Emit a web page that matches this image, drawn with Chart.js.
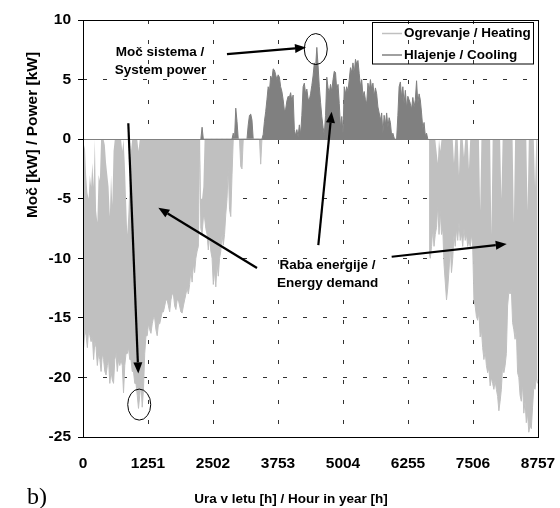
<!DOCTYPE html>
<html>
<head>
<meta charset="utf-8">
<script src="https://cdn.jsdelivr.net/npm/chart.js@4.4.1/dist/chart.umd.min.js"></script>
<style>
  body { margin: 0; background: #fff; }
  canvas { display: block; }
</style>
</head>
<body>
<canvas id="graf" width="560" height="508"></canvas>
<script>
// hourly loads summarised per day: one value per day, placed at hour day*24 + 12
var xTicks = [0, 1251, 2502, 3753, 5004, 6255, 7506, 8757];
var yMin = -25, yMax = 10, yStep = 5;

// heating, January - May (kW, negative = heat delivered)
var heatStartA = 0;
var heatLowA = [
  -17.5, -16, -16.5, -17.5, -16, -16.5, -17, -16.5, -18.5, -17,
  -17.5, -19, -18, -18.5, -19.5, -18, -18.5, -19.5, -19.8, -19,
  -18.5, -20.5, -19.5, -20.2, -20.5, -18.5, -18, -19.5, -18.5, -19,
  -18.5, -19, -21.3, -19, -18, -18, -17.5, -18.5, -18.5, -19.5,
  -19.5, -20.5, -20.5, -21.5, -22.6, -21.5, -20.5, -22.5, -21, -18,
  -16.5, -16.5, -15.5, -16, -16.3, -15.5, -15, -15, -16, -16.5,
  -15.5, -15.5, -15, -14.5, -14.5, -14, -13.5, -13.5, -14, -14.5,
  -13.5, -13, -13, -14, -14.3, -13.5, -13.5, -14, -14.5, -14.6,
  -14, -13.5, -13, -12.5, -13, -12.2, -11, -12, -10.5, -11.2,
  -10, -9.4, -9, 0, -7.5, -8, -6.6, -6.6, -7.5, -8,
  -9.3, -8, -9.4, -10, -12.2, -11, -12.4, -10.5, -11.5, -10,
  -9.4, -8, -8.9, -8, -6.3, -5, -2.4, -5.9, -6.5, -3,
  0, 0, 0, 0, 0, 0, -2.3, -2.5, 0, 0,
  0, 0, 0, 0, 0, 0, 0, 0, 0, 0,
  0, 0, -2.1, 0
];
var heatTopA = [
  -1, -0.5, -3, -4.5, -5, -3, -4, -2, -4, 0,
  -6, -7, -3, -3.5, 0, 0, 0, -0.5, -2, -3,
  -4, -6.5, -3, -5.5, -1, 0, 0, 0, 0, 0,
  0, -1, 0, -2, -5, -8, -6, -3, -1, 0,
  0, 0, 0, 0, -1, 0, 0, 0, 0, 0,
  0, 0, 0, 0, 0, 0, 0, 0, 0, 0,
  0, 0, 0, 0, 0, 0, 0, 0, 0, 0,
  0, 0, 0, 0, 0, 0, 0, 0, 0, 0,
  0, 0, 0, 0, 0, 0, 0, 0, 0, 0,
  0, 0, 0, 0, -5, -5, -4, 0, 0, 0,
  0, 0, 0, 0, 0, 0, 0, 0, 0, 0,
  0, 0, 0, 0, 0, 0, 0, 0, 0, 0,
  0, 0, 0, 0, 0, 0, 0, 0, 0, 0,
  0, 0, 0, 0, 0, 0, 0, 0, 0, 0,
  0, 0, 0, 0
];

// heating, October - December
var heatStartB = 277;
var heatLowB = [
  -9.5, -10, -9, -7.5, -9, -8, -7.4, -5.5, -8, -6,
  -8, -7.5, -10.5, -12, -13.5, -12.5, -11, -9, -11.2, -10,
  -8, -9, -7.5, -8.5, -7, -8.5, -7.9, -9, -7.5, -8.5,
  -8, -9, -8.5, -9, -8, -9, -13.5, -14, -14.9, -15.2,
  -14.5, -16.6, -16, -17.5, -18.5, -17.8, -19, -19.6, -19.2, -20.7,
  -20, -20.5, -21, -20.3, -21, -21.6, -22.8, -22, -21, -19,
  -19.6, -19, -18, -14, -12.8, -13, -12.6, -15.4, -16, -16.8,
  -16, -19.6, -20, -21.5, -22, -20.5, -23, -22, -23.8, -23,
  -24.6, -24, -24.3, -22.5, -20.8, -21, -20, -20.5
];
var heatTopB = [
  0, 0, 0, 0, 0, 0, -1, -2, 0, -1,
  0, 0, 0, 0, 0, 0, 0, 0, 0, 0,
  -2, 0, 0, 0, -3, 0, 0, 0, -1.5, 0,
  0, 0, -2.5, 0, 0, 0, 0, 0, 0, 0,
  0, -6, 0, 0, 0, 0, 0, 0, 0, 0,
  -8, 0, 0, 0, 0, 0, 0, 0, -5, 0,
  0, 0, 0, 0, 0, 0, 0, 0, -7, 0,
  0, 0, 0, 0, 0, 0, 0, 0, 0, -6,
  0, 0, 0, 0, 0, -4, 0, 0
];

// cooling, April - October (kW, daily peak)
var coolStart = 94;
var coolPeak = [
  0, 1.0, 0, 0, 0, 0, 0, 0, 0, 0,
  0, 0, 0, 0, 0, 0, 0, 0, 0, 0,
  0, 0, 0, 0, 0, 0, 0.5, 0, 2.6, 1.5,
  0, 0, 0, 0, 0, 0, 0, 0, 1.2, 2.0,
  2.1, 1.6, 0, 0, 0, 0, 0, 0, 0, 0,
  0.4, 1.5, 2.3, 3.3, 4.4, 4.0, 5.3, 5.0, 5.9, 5.8,
  5.4, 5.0, 5.4, 5.2, 4.4, 4.0, 3.3, 2.4, 2.5, 3.2,
  3.6, 3.5, 3.9, 3.2, 3.7, 0.8, 0.3, 0.8, 0.2, 1.2,
  0.4, 2.0, 4.4, 4.7, 3.8, 4.2, 3.4, 3.3, 3.8, 4.5,
  5.3, 6.4, 6.0, 7.7, 6.2, 4.4, 3.1, 1.9, 1.0, 0.4,
  2.0, 5.2, 4.3, 3.9, 4.6, 4.0, 5.0, 5.7, 5.6, 4.1,
  4.6, 3.0, 1.0, 1.9, 0.5, 4.4, 3.8, 4.4, 4.0, 5.0,
  6.0, 5.6, 6.4, 5.5, 6.7, 6.3, 6.6, 5.5, 4.4, 5.0,
  3.6, 4.0, 3.3, 3.0, 4.7, 4.0, 5.0, 4.2, 4.7, 3.6,
  4.3, 3.8, 2.7, 2.2, 1.6, 2.2, 0.5, 2.0, 1.2, 2.2,
  1.0, 1.8, 1.4, 0.3, 0.5, 0.1, 0, 0, 2.0, 4.4,
  4.8, 3.5, 4.4, 3.0, 4.1, 2.6, 3.6, 3.3, 3.0, 2.5,
  3.5, 2.7, 3.3, 4.9, 3.0, 3.8, 3.3, 2.2, 0.9, 1.4,
  0.3, 0.5, 0
];

// callouts, in hours / kW
var arrows = [
  [2771, 7.14, 4292, 7.69],
  [872, 1.33, 1064, -19.66],
  [3349, -10.82, 1449, -5.76],
  [4529, -8.89, 4785, 2.30],
  [5941, -9.87, 8155, -8.80]
];
var circles = [[4480, 7.56], [1082, -22.28]];
var notes = [
  ['Moč sistema /', 1482, 7.31],
  ['System power', 1492, 5.80],
  ['Raba energije /', 4706, -10.57],
  ['Energy demand', 4706, -12.08]
];

var heatColor = '#c0c0c0';
var coolColor = '#808080';
var sans = '"Liberation Sans", Arial, sans-serif';

function toPoints(startDay, values) {
  return values.map(function(v, i) {
    return { x: (startDay + i) * 24 + 12, y: v };
  });
}

function drawArrow(ctx, x1, y1, x2, y2) {
  var ang = Math.atan2(y2 - y1, x2 - x1);
  var len = 11, half = 4.5;
  var bx = x2 - len * Math.cos(ang), by = y2 - len * Math.sin(ang);
  ctx.lineWidth = 2.2;
  ctx.beginPath();
  ctx.moveTo(x1, y1);
  ctx.lineTo(bx, by);
  ctx.stroke();
  ctx.beginPath();
  ctx.moveTo(x2, y2);
  ctx.lineTo(bx + half * Math.sin(ang), by - half * Math.cos(ang));
  ctx.lineTo(bx - half * Math.sin(ang), by + half * Math.cos(ang));
  ctx.closePath();
  ctx.fill();
}

var frameAndZero = {
  id: 'frameAndZero',
  afterDatasetsDraw: function(chart) {
    var ctx = chart.ctx, a = chart.chartArea, y = chart.scales.y;
    var yz = Math.round(y.getPixelForValue(0)) + 0.5;
    ctx.save();
    ctx.lineWidth = 1;
    ctx.strokeStyle = '#808080';
    ctx.beginPath();
    ctx.moveTo(a.left, yz);
    ctx.lineTo(a.right, yz);
    ctx.stroke();
    ctx.strokeStyle = '#000';
    ctx.strokeRect(Math.round(a.left) + 0.5, Math.round(a.top) + 0.5,
      Math.round(a.right - a.left), Math.round(a.bottom - a.top));
    ctx.restore();
  }
};

var callouts = {
  id: 'callouts',
  afterDraw: function(chart) {
    var ctx = chart.ctx, x = chart.scales.x, y = chart.scales.y;
    ctx.save();
    ctx.fillStyle = '#000';
    ctx.strokeStyle = '#000';

    arrows.forEach(function(r) {
      drawArrow(ctx, x.getPixelForValue(r[0]), y.getPixelForValue(r[1]),
        x.getPixelForValue(r[2]), y.getPixelForValue(r[3]));
    });

    ctx.lineWidth = 1;
    circles.forEach(function(c) {
      ctx.beginPath();
      ctx.ellipse(x.getPixelForValue(c[0]), y.getPixelForValue(c[1]), 11.5, 15.5, 0, 0, Math.PI * 2);
      ctx.stroke();
    });

    ctx.font = 'bold 13.5px ' + sans;
    ctx.textAlign = 'center';
    ctx.textBaseline = 'middle';
    notes.forEach(function(n) {
      ctx.fillText(n[0], x.getPixelForValue(n[1]), y.getPixelForValue(n[2]));
    });

    // legend
    ctx.lineWidth = 1;
    ctx.strokeRect(372.5, 22.5, 161, 41.5);
    ctx.lineWidth = 1.5;
    ctx.strokeStyle = heatColor;
    ctx.beginPath(); ctx.moveTo(382, 33.5); ctx.lineTo(402, 33.5); ctx.stroke();
    ctx.strokeStyle = coolColor;
    ctx.beginPath(); ctx.moveTo(382, 55); ctx.lineTo(402, 55); ctx.stroke();
    ctx.textAlign = 'left';
    ctx.fillText('Ogrevanje / Heating', 404, 33.5);
    ctx.fillText('Hlajenje / Cooling', 404, 55);

    // axis titles
    ctx.textAlign = 'center';
    ctx.font = 'bold 13.5px ' + sans;
    ctx.fillText('Ura v letu [h] / Hour in year [h]', 291, 499);
    ctx.save();
    ctx.translate(33, 135);
    ctx.rotate(-Math.PI / 2);
    ctx.font = 'bold 15.5px ' + sans;
    ctx.fillText('Moč [kW] / Power [kW]', 0, 0);
    ctx.restore();

    ctx.textAlign = 'left';
    ctx.textBaseline = 'alphabetic';
    ctx.font = '24px "Liberation Serif", "Times New Roman", serif';
    ctx.fillText('b)', 27, 504);
    ctx.restore();
  }
};

var tickFont = { family: sans, size: 15.5, weight: 'bold' };

new Chart(document.getElementById('graf').getContext('2d'), {
  type: 'line',
  data: {
    datasets: [
      {
        label: 'Ogrevanje / Heating',
        data: toPoints(heatStartA, heatTopA),
        borderColor: 'rgba(0,0,0,0)',
        fill: false
      },
      {
        label: 'Ogrevanje / Heating',
        data: toPoints(heatStartA, heatLowA),
        borderColor: heatColor,
        backgroundColor: heatColor,
        borderWidth: 1,
        fill: '-1'
      },
      {
        label: 'Ogrevanje / Heating',
        data: toPoints(heatStartB, heatTopB),
        borderColor: 'rgba(0,0,0,0)',
        fill: false
      },
      {
        label: 'Ogrevanje / Heating',
        data: toPoints(heatStartB, heatLowB),
        borderColor: heatColor,
        backgroundColor: heatColor,
        borderWidth: 1,
        fill: '-1'
      },
      {
        label: 'Hlajenje / Cooling',
        data: toPoints(coolStart, coolPeak),
        borderColor: coolColor,
        backgroundColor: coolColor,
        borderWidth: 1,
        fill: 'origin'
      }
    ]
  },
  options: {
    responsive: false,
    animation: false,
    devicePixelRatio: 1,
    layout: { padding: { top: 20, right: 22, left: 0, bottom: 0 } },
    elements: {
      point: { radius: 0 },
      line: { tension: 0, borderJoinStyle: 'bevel' }
    },
    plugins: {
      legend: { display: false },
      tooltip: { enabled: false }
    },
    scales: {
      x: {
        type: 'linear',
        min: 0,
        max: 8757,
        afterBuildTicks: function(scale) {
          scale.ticks = xTicks.map(function(v) { return { value: v }; });
        },
        afterFit: function(scale) {
          scale.height = 71;
          scale.paddingLeft = 0;
          scale.paddingRight = 0;
        },
        grid: { color: '#333', lineWidth: 1, drawTicks: false },
        border: { display: false, dash: [4, 16] },
        ticks: {
          font: tickFont,
          color: '#000',
          padding: 17,
          maxRotation: 0,
          autoSkip: false,
          callback: function(v) { return v; }
        }
      },
      y: {
        min: yMin,
        max: yMax,
        afterFit: function(scale) {
          scale.width = 83;
          scale.paddingTop = 0;
          scale.paddingBottom = 0;
        },
        grid: {
          color: function(c) { return c.tick && c.tick.value === 0 ? 'rgba(0,0,0,0)' : '#333'; },
          lineWidth: 1,
          tickLength: 5,
          tickColor: '#000'
        },
        border: { display: false, dash: [4, 16] },
        ticks: { stepSize: yStep, font: tickFont, color: '#000', padding: 7 }
      }
    }
  },
  plugins: [frameAndZero, callouts]
});
</script>
</body>
</html>
